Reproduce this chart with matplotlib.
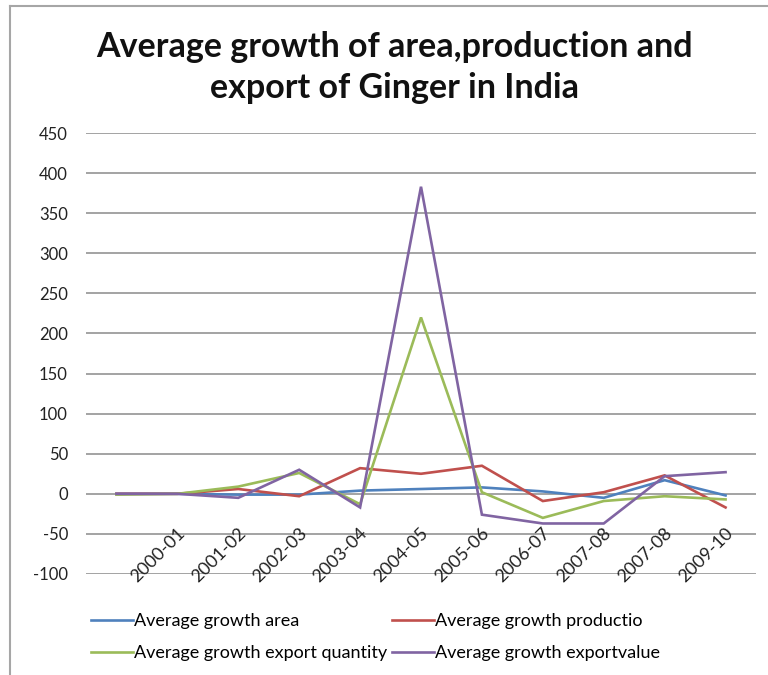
import matplotlib
matplotlib.use("Agg")
import matplotlib.pyplot as plt
from matplotlib.lines import Line2D
from matplotlib.transforms import offset_copy

plt.rcParams['font.family'] = ['Lato', 'DejaVu Sans']

categories = ["", "2000-01", "2001-02", "2002-03", "2003-04", "2004-05",
              "2005-06", "2006-07", "2007-08", "2007-08", "2009-10"]
area = [0, 0, -1, -1, 4, 6, 8, 3, -5, 17, -2]
production = [0, 0, 6, -3, 32, 25, 35, -9, 2, 23, -17]
export_qty = [-1, 0, 9, 26, -13, 220, 2, -30, -9, -3, -7]
export_val = [0, 0, -5, 30, -17, 383, -26, -37, -37, 22, 27]

series = [
    ("Average growth area", area, "#4F81BD"),
    ("Average growth productio", production, "#C0504D"),
    ("Average growth export quantity", export_qty, "#9BBB59"),
    ("Average growth exportvalue", export_val, "#8064A2"),
]
yticks = list(range(-100, 451, 50))

W, H = 768, 675
fig = plt.figure(figsize=(W / 100, H / 100), dpi=100)
ax = fig.add_axes([86 / W, 1 - 574 / H, (756 - 86) / W, (574 - 133) / H])

x = list(range(len(categories)))
handles = []
for name, vals, col in series:
    ln, = ax.plot(x, vals, color=col, lw=1.9, label=name, solid_joinstyle='miter')
    handles.append(ln)

ax.set_xlim(-0.5, len(categories) - 0.5)
ax.set_ylim(-100, 450)
ax.set_yticks(yticks)
ax.set_yticklabels([str(v) for v in yticks], fontsize=12, color='#222222')
ax.tick_params(axis='y', length=0, pad=13)
ax.set_xticks([])
ax.grid(axis='y', color='#8A8A8A', lw=1.1)
ax.set_axisbelow(True)
for s in ax.spines.values():
    s.set_visible(False)

# category labels just below the zero line
trans = offset_copy(ax.transData, fig=fig, x=5, y=-37, units='dots')
for i, c in enumerate(categories):
    if c:
        ax.text(i, 0, c, transform=trans, rotation=45, ha='right', va='center',
                rotation_mode='anchor', fontsize=13, color='#222222')

fig.text(394 / W, 1 - 47 / H, "Average growth of area,production and",
         ha='center', va='center', fontsize=24.5, fontweight='bold', color='#111111')
fig.text(394 / W, 1 - 88 / H, "export of Ginger in India",
         ha='center', va='center', fontsize=24.5, fontweight='bold', color='#111111')

order = [0, 2, 1, 3]
leg = fig.legend(handles=[handles[k] for k in order], loc='upper left', ncol=2,
                 bbox_to_anchor=(82 / W, 1 - 604 / H), frameon=False,
                 fontsize=13, handlelength=2.3, handletextpad=0.1,
                 columnspacing=0.25, labelspacing=0.9, borderpad=0)

# outer chart border (top and left visible)
fig.add_artist(Line2D([10 / W, 1], [1 - 6 / H, 1 - 6 / H], transform=fig.transFigure,
                      color='#A6A6A6', lw=1.5))
fig.add_artist(Line2D([10 / W, 10 / W], [0, 1 - 6 / H], transform=fig.transFigure,
                      color='#A6A6A6', lw=1.5))

fig.savefig("out.png", dpi=100)
